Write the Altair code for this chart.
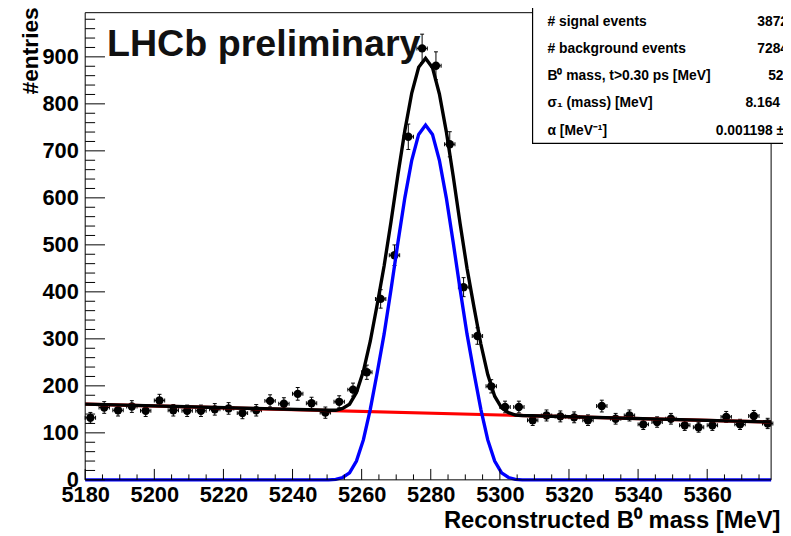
import altair as alt
import pandas as pd

FONT = "Liberation Sans"

# ---------------- data ----------------
mass_centers = [5181.5 + 4 * i for i in range(50)]
entries = [132, 154, 148, 156, 147, 169, 148, 147, 147, 150,
           152, 142, 148, 168, 162, 183, 163, 143, 166, 192,
           229, 385, 478, 730, 918, 881, 714, 410, 306, 199,
           155, 155, 127, 137, 135, 133, 127, 157, 130, 137,
           118, 123, 130, 116, 112, 116, 134, 118, 136, 120]

curve_mass = [5180, 5250.5, 5252.5, 5254.5, 5256.5, 5258.5, 5260.5, 5262.5,
              5264.5, 5266.5, 5268.5, 5270.5, 5272.5, 5274.5, 5276.5, 5278.5,
              5280.5, 5282.5, 5284.5, 5286.5, 5288.5, 5290.5, 5292.5, 5294.5,
              5296.5, 5298.5, 5300.5, 5302.5, 5304.5, 5306.5, 5378.5]
total_fit = [161, 148, 148, 152, 161, 186, 231, 295, 373, 455, 549, 649, 743,
             823, 878, 897, 877, 821, 741, 646, 545, 450, 368, 289, 224, 178,
             153, 143, 138, 137, 123]
signal_fit = [0, 0, 1, 5, 15, 40, 85, 150, 228, 310, 405, 505, 600, 680, 735,
              755, 735, 680, 600, 505, 405, 310, 228, 150, 85, 40, 15, 5, 1, 0, 0]
bkg_mass = [5180, 5378.5]
bkg_fit = [161, 123]

x_major = [5180, 5200, 5220, 5240, 5260, 5280, 5300, 5320, 5340, 5360]
x_minor = [v for v in range(5185, 5380, 5) if v % 20 != 0]
y_major = [0, 100, 200, 300, 400, 500, 600, 700, 800, 900]
y_minor = [v for v in range(20, 1000, 20) if v % 100 != 0]

box_labels = ["# signal events", "# background events",
              "B\u2070 mass, t>0.30 ps [MeV]", "\u03c3\u2081 (mass) [MeV]",
              "\u03b1 [MeV\u207b\u00b9]"]
box_values = ["3872 \u00b1 74", "7284 \u00b1 98", "5279.3 \u00b1 0.3",
              "8.164 \u00b1 0.27", "0.001198 \u00b1 0.00054"]

# ---------------- layout ----------------
W, H = 693, 472
xscale = alt.Scale(domain=[5180, 5378.5], nice=False, zero=False)
yscale = alt.Scale(domain=[0, 994], nice=False, zero=False)

xaxis = alt.Axis(values=x_major, format="d", title="Reconstructed B\u2070 mass [MeV]",
                 labelFont=FONT, labelFontWeight="bold", labelFontSize=22,
                 labelColor="black", labelPadding=5, ticks=False, tickSize=0,
                 domain=False, grid=False, labelOverlap=False, labelFlush=False,
                 labelBound=False,
                 titleFont=FONT, titleFontWeight="bold", titleFontSize=24,
                 titleColor="black", titleAlign="right", titleX=W + 9, titleY=48,
                 titleBaseline="alphabetic")
yaxis = alt.Axis(values=y_major, format="d", title="#entries",
                 labelFont=FONT, labelFontWeight="bold", labelFontSize=22,
                 labelColor="black", labelPadding=7, ticks=False, tickSize=0,
                 domain=False, grid=False, labelOverlap=False, labelFlush=False,
                 titleFont=FONT, titleFontWeight="bold", titleFontSize=23,
                 titleColor="black", titleAngle=270, titleAlign="right",
                 titleX=-48, titleY=-6, titleBaseline="alphabetic")


def X(f):
    return alt.X(f"{f}:Q", scale=xscale, axis=xaxis)


def Y(f):
    return alt.Y(f"{f}:Q", scale=yscale, axis=yaxis)


one = pd.DataFrame({"a": [0]})

df_pts = pd.DataFrame({"mass": mass_centers, "n": entries})
df_curve = pd.DataFrame({"mass": curve_mass, "total": total_fit, "signal": signal_fit})
df_bkg = pd.DataFrame({"mass": bkg_mass, "bkg": bkg_fit})

pts = alt.Chart(df_pts).transform_calculate(
    lo="datum.n - sqrt(datum.n)", hi="datum.n + sqrt(datum.n)",
    xl="datum.mass - 1.5", xh="datum.mass + 1.5")

verr = pts.mark_rule(color="black", strokeWidth=1).encode(x=X("mass"), y=Y("lo"), y2="hi:Q")
herr = pts.mark_rule(color="black", strokeWidth=1).encode(x=X("xl"), x2="xh:Q", y=Y("n"))
cap_lo = pts.mark_tick(orient="horizontal", size=4, thickness=1, color="black", opacity=1).encode(x=X("mass"), y=Y("lo"))
cap_hi = pts.mark_tick(orient="horizontal", size=4, thickness=1, color="black", opacity=1).encode(x=X("mass"), y=Y("hi"))
cap_l = pts.mark_tick(orient="vertical", size=4, thickness=1, color="black", opacity=1).encode(x=X("xl"), y=Y("n"))
cap_r = pts.mark_tick(orient="vertical", size=4, thickness=1, color="black", opacity=1).encode(x=X("xh"), y=Y("n"))
dots = pts.mark_circle(size=72, color="black", opacity=1).encode(x=X("mass"), y=Y("n"))

red = alt.Chart(df_bkg).mark_line(color="#ff0000", strokeWidth=3.2).encode(x=X("mass"), y=Y("bkg"))
blue = alt.Chart(df_curve).mark_line(color="#0000ff", strokeWidth=3.4).encode(x=X("mass"), y=Y("signal"))
black = alt.Chart(df_curve).mark_line(color="black", strokeWidth=3.4).encode(x=X("mass"), y=Y("total"))

# ticks drawn inside the frame
xt_major = alt.Chart(pd.DataFrame({"t": x_major})).mark_rule(color="black", strokeWidth=1).encode(
    x=X("t"), y=alt.value(H), y2=alt.value(H - 11))
xt_minor = alt.Chart(pd.DataFrame({"t": x_minor})).mark_rule(color="black", strokeWidth=1).encode(
    x=X("t"), y=alt.value(H), y2=alt.value(H - 5.5))
yt_major = alt.Chart(pd.DataFrame({"t": y_major})).mark_rule(color="black", strokeWidth=1).encode(
    y=Y("t"), x=alt.value(0), x2=alt.value(20))
yt_minor = alt.Chart(pd.DataFrame({"t": y_minor})).mark_rule(color="black", strokeWidth=1).encode(
    y=Y("t"), x=alt.value(0), x2=alt.value(10))

BOX_X = 452
BOX_B = 132
frame = [
    alt.Chart(one).mark_rule(color="black", strokeWidth=1).encode(x=alt.value(0), x2=alt.value(BOX_X), y=alt.value(0)),
    alt.Chart(one).mark_rule(color="black", strokeWidth=1).encode(x=alt.value(0), x2=alt.value(W), y=alt.value(H)),
    alt.Chart(one).mark_rule(color="black", strokeWidth=1).encode(x=alt.value(0), y=alt.value(0), y2=alt.value(H)),
    alt.Chart(one).mark_rule(color="black", strokeWidth=1).encode(x=alt.value(W), y=alt.value(BOX_B), y2=alt.value(H)),
]

box = alt.Chart(one).mark_rect(fill="white", stroke="black", strokeWidth=1.2).encode(
    x=alt.value(BOX_X), x2=alt.value(730), y=alt.value(-20), y2=alt.value(BOX_B))

row_y = [9, 36.5, 64, 91.5, 119.5]
val_x = [679, 679, 690, 667, 637]
texts = []
for i in range(5):
    texts.append(alt.Chart(pd.DataFrame({"t": [box_labels[i]]})).mark_text(
        align="left", baseline="middle", font=FONT, fontSize=14, fontWeight="bold", color="black"
    ).encode(x=alt.value(467), y=alt.value(row_y[i]), text="t:N"))
    texts.append(alt.Chart(pd.DataFrame({"t": [box_values[i]]})).mark_text(
        align="left", baseline="middle", font=FONT, fontSize=14, fontWeight="bold", color="black"
    ).encode(x=alt.value(val_x[i]), y=alt.value(row_y[i]), text="t:N"))

lhcb = alt.Chart(pd.DataFrame({"t": ["LHCb preliminary"]})).mark_text(
    align="left", baseline="alphabetic", font=FONT, fontSize=38, fontWeight="bold", color="#111111"
).encode(x=alt.value(22), y=alt.value(44), text="t:N")

chart = alt.layer(
    verr, herr, cap_lo, cap_hi, cap_l, cap_r, dots,
    red, blue, black,
    xt_major, xt_minor, yt_major, yt_minor,
    *frame, lhcb, box, *texts
).properties(
    width=W, height=H,
    autosize=alt.AutoSizeParams(type="none"),
    padding={"left": 78, "top": 2, "right": 12, "bottom": 54},
    background="white",
).configure_view(stroke=None)

chart.save("out.html", embed_options={"renderer": "svg", "actions": False})
